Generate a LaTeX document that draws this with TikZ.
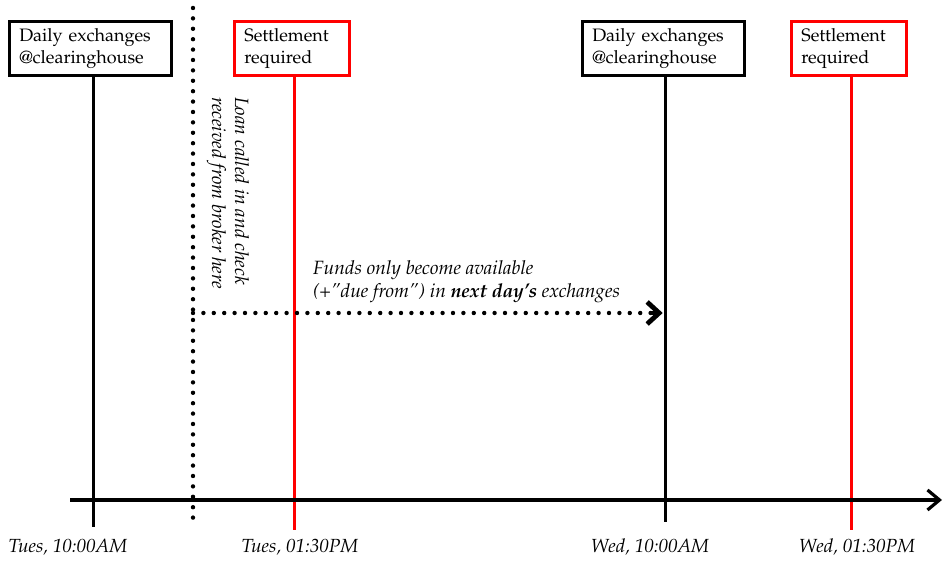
\documentclass[tikz,border=0pt]{standalone}
\usepackage[T1]{fontenc}
\usepackage{mathpazo}
\usepackage{tikz}
\usetikzlibrary{positioning,arrows.meta}
\definecolor{settle}{RGB}{255, 0, 0}

\begin{document}
\begin{tikzpicture}[x=0.5pt,y=0.5pt,
    daybox/.style={draw, line width=1.3pt, anchor=north west, align=left, text width=71pt, minimum height=27pt, inner xsep=5pt, font=\fontsize{9}{11}\selectfont},
    settlebox/.style={daybox, draw=settle, text width=47.5pt},
    dayline/.style={line width=1.5pt},
    settleline/.style={line width=1.5pt, settle},
    dotline/.style={line width=2.2pt, line cap=round, dash pattern=on 0pt off 5.2pt},
    timelabel/.style={font=\fontsize{9.5}{11}\selectfont\itshape}]
    \useasboundingbox (0,0) rectangle (944,561);

    % boxes on top
    \node[daybox] (tue10) at (8,541) {Daily exchanges\\@clearinghouse};
    \node[settlebox] (tue13) at (233,541) {Settlement\\required};
    \node[daybox] (wed10) at (581,541) {Daily exchanges\\@clearinghouse};
    \node[settlebox] (wed13) at (790,541) {Settlement\\required};

    % ends of the lines
    \coordinate (tue10top) at ([xshift=1.6pt]tue10.south);
    \coordinate (tue13top) at ([xshift=1.5pt]tue13.south);
    \coordinate (wed10top) at ([xshift=1.2pt]wed10.south);
    \coordinate (wed13top) at ([xshift=1.5pt]wed13.south);
    \coordinate (tue10end) at (tue10top |- 0,34);
    \coordinate (tue13end) at (tue13top |- 0,31);
    \coordinate (wed10end) at (wed10top |- 0,39);
    \coordinate (wed13end) at (wed13top |- 0,31);
    \coordinate (loantop) at (193,553);
    \coordinate (loanend) at (193,34);
    \coordinate (loanrow) at (193,248);
    \coordinate (axisstart) at (70,61);
    \coordinate (axisend) at (942,61);

    \draw[dayline] (tue10top) -- (tue10end);
    \draw[settleline] (tue13top) -- (tue13end);
    \draw[dayline] (wed10top) -- (wed10end);
    \draw[settleline] (wed13top) -- (wed13end);

    % time axis
    \draw[line width=1.6pt, -{Straight Barb[length=6pt, width=10pt, line width=1.6pt]}] (axisstart) -- (axisend);

    % loan called in
    \draw[dotline] (loantop) -- (loanend);
    \node[rotate=-90, align=left, font=\fontsize{9.6}{11.5}\selectfont\itshape] (loan) at (228,368) {Loan called in and check\\received from broker here};

    % funds move to next day
    \draw[dotline] (loanrow) -- ([xshift=-6pt]wed10top |- loanrow);
    \draw[line width=2.4pt, -{Straight Barb[length=6pt, width=11pt, line width=2.4pt]}] ([xshift=-8pt]wed10top |- loanrow) -- ([xshift=-1.5pt]wed10top |- loanrow);
    \node[anchor=south west, align=left, font=\fontsize{9.6}{11.5}\selectfont\itshape] (funds) at (306,251) {Funds only become available\\(+''due from'') in \textbf{next day's} exchanges};

    % times below the axis
    \node[timelabel] (tue10time) at (68,14) {Tues, 10:00AM};
    \node[timelabel] (tue13time) at (300,14) {Tues, 01:30PM};
    \node[timelabel] (wed10time) at (650,14) {Wed, 10:00AM};
    \node[timelabel] (wed13time) at (857,14) {Wed, 01:30PM};
\end{tikzpicture}
\end{document}
